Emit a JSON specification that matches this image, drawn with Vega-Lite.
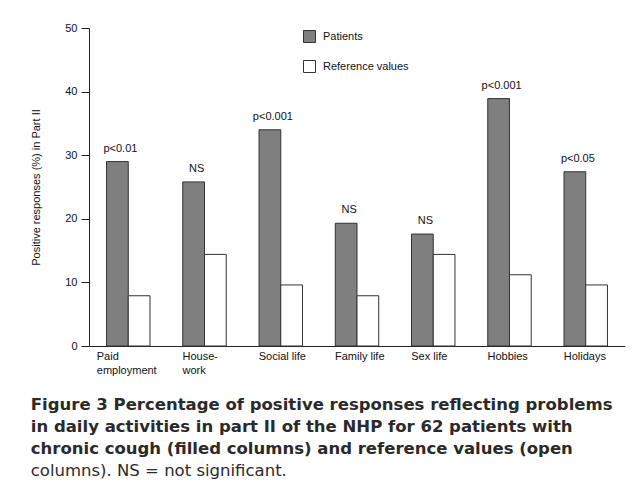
{
  "$schema": "https://vega.github.io/schema/vega-lite/v6.json",
  "autosize": {"type": "none"},
  "width": 536,
  "height": 318,
  "padding": {"left": 89, "top": 28, "right": 9, "bottom": 157},
  "background": "white",
  "config": {
    "view": {"stroke": null},
    "font": "Liberation Sans",
    "axis": {"labelFont": "Liberation Sans", "titleFont": "Liberation Sans", "labelColor": "#111", "titleColor": "#111", "domainColor": "#222", "tickColor": "#222", "labelFontSize": 11, "titleFontSize": 11, "titleFontWeight": "normal"}
  },
  "title": {
    "text": ["Figure 3 Percentage of positive responses reflecting problems", "in daily activities in part II of the NHP for 62 patients with", "chronic cough (filled columns) and reference values (open"],
    "subtitle": "columns). NS = not significant.",
    "orient": "bottom",
    "anchor": "start",
    "frame": "bounds",
    "offset": 22,
    "font": "DejaVu Sans",
    "fontSize": 16.5,
    "fontWeight": "bold",
    "color": "#2a2a2a",
    "lineHeight": 22,
    "subtitleFont": "DejaVu Sans",
    "subtitleFontSize": 16.5,
    "subtitleFontWeight": "normal",
    "subtitleColor": "#2a2a2a",
    "subtitleLineHeight": 22,
    "subtitlePadding": 5
  },
  "data": {
    "values": [
      {"activity": "Paid|employment", "group": "Patients", "value": 29.0, "note": "p<0.01"},
      {"activity": "Paid|employment", "group": "Reference values", "value": 7.9, "note": ""},
      {"activity": "House-|work", "group": "Patients", "value": 25.8, "note": "NS"},
      {"activity": "House-|work", "group": "Reference values", "value": 14.4, "note": ""},
      {"activity": "Social life", "group": "Patients", "value": 34.0, "note": "p<0.001"},
      {"activity": "Social life", "group": "Reference values", "value": 9.6, "note": ""},
      {"activity": "Family life", "group": "Patients", "value": 19.3, "note": "NS"},
      {"activity": "Family life", "group": "Reference values", "value": 7.9, "note": ""},
      {"activity": "Sex life", "group": "Patients", "value": 17.6, "note": "NS"},
      {"activity": "Sex life", "group": "Reference values", "value": 14.4, "note": ""},
      {"activity": "Hobbies", "group": "Patients", "value": 38.9, "note": "p<0.001"},
      {"activity": "Hobbies", "group": "Reference values", "value": 11.2, "note": ""},
      {"activity": "Holidays", "group": "Patients", "value": 27.4, "note": "p<0.05"},
      {"activity": "Holidays", "group": "Reference values", "value": 9.6, "note": ""}
    ]
  },
  "encoding": {
    "x": {
      "field": "activity",
      "type": "nominal",
      "sort": null,
      "scale": {"paddingInner": 0.43, "paddingOuter": 0.23},
      "axis": {
        "title": null,
        "labelAngle": 0,
        "ticks": false,
        "labelAlign": "left",
        "labelOffset": {"condition": {"test": "datum.value == 'Paid|employment'", "value": -31.5}, "value": -22},
        "labelPadding": 4,
        "labelLineHeight": 14,
        "labelExpr": "split(datum.label, '|')"
      }
    },
    "xOffset": {"field": "group", "type": "nominal", "sort": null},
    "y": {
      "field": "value",
      "type": "quantitative",
      "scale": {"domain": [0, 50], "nice": false},
      "axis": {
        "title": "Positive responses (%) in Part II",
        "values": [0, 10, 20, 30, 40, 50],
        "grid": false,
        "tickSize": 8,
        "labelPadding": 4,
        "titlePadding": 23
      }
    }
  },
  "layer": [
    {
      "mark": {"type": "bar", "stroke": "#333", "strokeWidth": 1},
      "encoding": {
        "color": {
          "field": "group",
          "type": "nominal",
          "scale": {"domain": ["Patients", "Reference values"], "range": ["#7f7f7f", "#ffffff"]},
          "legend": {
            "title": null,
            "orient": "none",
            "legendX": 214,
            "legendY": 2,
            "direction": "vertical",
            "padding": 0,
            "symbolType": "square",
            "symbolSize": 144,
            "symbolStrokeColor": "#333",
            "symbolStrokeWidth": 1,
            "labelFont": "Liberation Sans",
            "labelFontSize": 11,
            "labelColor": "#111",
            "labelOffset": 7,
            "rowPadding": 13
          }
        }
      }
    },
    {
      "transform": [{"filter": "datum.group == 'Patients'"}],
      "mark": {"type": "text", "baseline": "bottom", "dy": -8, "dx": 3, "fontSize": 11, "font": "Liberation Sans", "color": "#111"},
      "encoding": {"text": {"field": "note"}}
    }
  ]
}
